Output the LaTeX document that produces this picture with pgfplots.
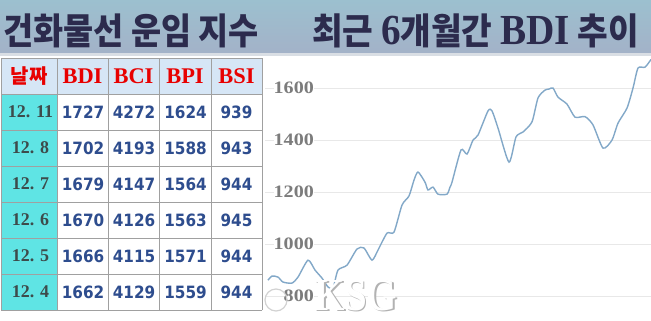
\documentclass[border=0pt]{standalone}
\usepackage{pgfplots}
\pgfplotsset{compat=1.18}
\usepackage{fontspec}
\setmainfont{Liberation Serif}
\newfontfamily\kr{Noto Sans CJK KR}
\newfontfamily\num{DejaVu Sans}
\newfontfamily\ser{Liberation Serif}
\definecolor{bantop}{HTML}{9CC0CF}
\definecolor{banbot}{HTML}{A3B2C8}
\definecolor{stripe}{HTML}{D9DEE4}
\definecolor{titlec}{HTML}{2C2B4D}
\definecolor{headfill}{HTML}{D6E6F6}
\definecolor{datefill}{HTML}{5FE4E4}
\definecolor{borderc}{HTML}{A0A0A0}
\definecolor{redc}{HTML}{E80000}
\definecolor{numc}{HTML}{2E4D8E}
\definecolor{datec}{HTML}{3D4B4B}
\definecolor{tickc}{HTML}{7C7C7C}
\definecolor{gridc}{HTML}{E8E8E8}
\definecolor{linec}{HTML}{82A8C8}
\begin{document}
\begin{tikzpicture}[x=1bp,y=1bp]
\useasboundingbox (0,0) rectangle (651,320);
\fill[white] (0,0) rectangle (651,320);
% banner
\shade[top color=bantop, bottom color=banbot] (0,267) rectangle (651,320);
\fill[stripe] (0,264) rectangle (651,267);
\node[anchor=west, inner sep=0pt, text=titlec] at (3,289)
  {\scalebox{0.9}[1]{\kr\bfseries\fontsize{36.5}{36.5}\selectfont 건화물선 운임 지수}};
\node[anchor=west, inner sep=0pt, text=titlec] at (312,289)
  {\scalebox{0.915}[1]{\kr\bfseries\fontsize{36.5}{36.5}\selectfont 최근 {\ser\bfseries\fontsize{43}{43}\selectfont 6}개월간 {\ser\bfseries\fontsize{43}{43}\selectfont BDI} 추이}};
% chart
\begin{axis}[
  at={(265bp,0bp)}, anchor=south west,
  width=386bp, height=265bp, scale only axis,
  xmin=0, xmax=386, ymin=708, ymax=1727,
  axis line style={draw=none},
  xtick=\empty,
  ytick={800,1000,1200,1400,1600},
  ymajorgrids, grid style={draw=gridc, line width=0.8bp},
  major tick length=0pt,
  /pgf/number format/1000 sep={},
  /pgf/number format/assume math mode=true,
  yticklabel style={anchor=east, inner sep=0pt, xshift=49bp, fill=white, text=tickc,
    font=\ser\bfseries\fontsize{17.5}{17.5}\selectfont},
  yticklabel={\scalebox{1.15}[1]{\pgfmathprintnumber{\tick}}},
]
\addplot[linec, line width=1.4bp, smooth, tension=0.4] coordinates {
(3,861)(7,877)(13,873)(18,854)(27,850)(33,873)(43,938)(50,900)(57,869)(63,835)
(68,831)(73,900)(82,919)(92,981)(99,985)(107,938)(113,977)(122,1042)(129,1046)
(137,1150)(144,1185)(149,1246)(153,1277)(160,1238)(163,1208)(168,1219)(173,1192)
(182,1192)(185,1219)(187,1238)(196,1362)(202,1346)(208,1400)(213,1419)(223,1512)
(227,1512)(233,1446)(244,1315)(251,1412)(258,1431)(267,1470)(273,1562)(280,1592)
(284,1596)(288,1600)(293,1565)(302,1538)(310,1488)(320,1490)(328,1458)(338,1369)
(347,1400)(353,1465)(362,1523)(368,1600)(373,1677)(380,1680)(386,1710)
};
\end{axis}
% table
\fill[headfill] (1,226) rectangle (262,262);
\fill[datefill] (1,10) rectangle (57,226);
\foreach \x in {1,57,108,159,211,262} \draw[borderc, line width=1bp] (\x,10) -- (\x,262);
\foreach \y in {10,46,82,118,154,190,226,262} \draw[borderc, line width=1bp] (1,\y) -- (262,\y);
\node[text=redc] at (29,244) {\kr\bfseries\fontsize{20}{20}\selectfont 날짜};
\foreach \cx/\t in {82.5/BDI,133.5/BCI,185/BPI,236.5/BSI}
  \node[text=redc] at (\cx,244) {\ser\bfseries\fontsize{22.5}{22.5}\selectfont \t};
\foreach \cy/\d/\a/\b/\c/\e in {
  208/12. 11/1727/4272/1624/939,
  172/12. 8/1702/4193/1588/943,
  136/12. 7/1679/4147/1564/944,
  100/12. 6/1670/4126/1563/945,
  64/12. 5/1666/4115/1571/944,
  28/12. 4/1662/4129/1559/944}{
  \node[text=datec] at (30.5,\cy) {\ser\bfseries\fontsize{18}{18}\selectfont \d};
  \node[text=numc] at (83,\cy) {\scalebox{0.9}[1]{\num\bfseries\fontsize{17}{17}\selectfont \a}};
  \node[text=numc] at (134,\cy) {\scalebox{0.9}[1]{\num\bfseries\fontsize{17}{17}\selectfont \b}};
  \node[text=numc] at (185.5,\cy) {\scalebox{0.9}[1]{\num\bfseries\fontsize{17}{17}\selectfont \c}};
  \node[text=numc] at (236.5,\cy) {\scalebox{0.9}[1]{\num\bfseries\fontsize{17}{17}\selectfont \e}};
}
% watermark
\draw[gray!35, line width=1.2bp] (276,20) circle (11);
\node[text=gray!60, anchor=base, inner sep=0pt] at (357.5,8.5) {\scalebox{0.85}[1]{\ser\bfseries\fontsize{46}{46}\selectfont KSG}};
\node[text=white, anchor=base, inner sep=0pt] at (356,10) {\scalebox{0.85}[1]{\ser\bfseries\fontsize{46}{46}\selectfont KSG}};
\end{tikzpicture}
\end{document}
